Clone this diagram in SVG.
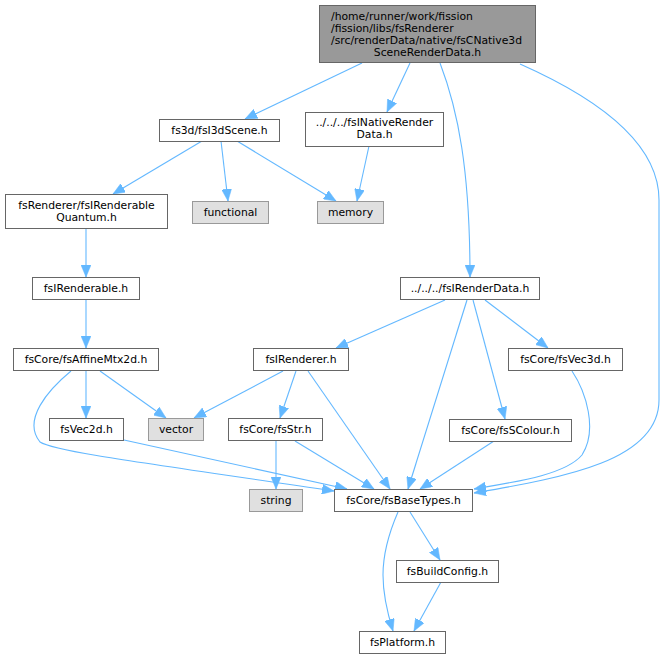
<svg xmlns="http://www.w3.org/2000/svg" width="665" height="659" viewBox="0 0 665 659">
<style>
text{font-family:"DejaVu Sans","Liberation Sans",sans-serif;font-size:10.8px;fill:#000;text-anchor:middle}
.n rect{fill:#fff;stroke:#666;stroke-width:1}
.s rect{fill:#e0e0e0;stroke:#999;stroke-width:1}
.r rect{fill:#999;stroke:#666;stroke-width:1}
#edges path{fill:none;stroke:#63b8ff;stroke-width:1.1;marker-end:url(#a)}
</style>
<defs>
<marker id="a" viewBox="0 0 12 10" refX="12" refY="5" markerWidth="12" markerHeight="10" markerUnits="userSpaceOnUse" orient="auto">
<path d="M0,0 L12,5 L0,10 Z" fill="#63b8ff" stroke="#63b8ff" stroke-width="0.5"/>
</marker>
</defs>
<rect width="665" height="659" fill="#fff"/>
<g id="edges">
<path d="M362,63 L245,119"/>
<path d="M410,63 L387,112"/>
<path d="M440,63 C458,110 470,170 470,277"/>
<path d="M520,64 C590,95 659,140 659,200 L659,400 C659,462 560,478 474,493"/>
<path d="M202,141 L113,194"/>
<path d="M221,141 L228,201"/>
<path d="M237,141 L336,201"/>
<path d="M369,146 L357,201"/>
<path d="M86,229 L86,277"/>
<path d="M86,300 L86,348"/>
<path d="M86,371 L86,418"/>
<path d="M100,371 L166,418"/>
<path d="M71,371 C48,390 22,420 40,442 C55,452 160,465 334,491"/>
<path d="M124,440 L347,489"/>
<path d="M445,300 L336,348"/>
<path d="M467,300 L408,489"/>
<path d="M473,300 L505,419"/>
<path d="M485,300 L548,348"/>
<path d="M283,371 L194,418"/>
<path d="M296,371 L280,418"/>
<path d="M308,371 L390,489"/>
<path d="M276,441 L276,489"/>
<path d="M295,441 L374,489"/>
<path d="M494,441 L420,489"/>
<path d="M572,371 C586,392 598,430 582,455 C565,475 515,482 474,489"/>
<path d="M410,512 L440,560"/>
<path d="M398,512 C388,535 383,555 383,575 C383,597 388,615 393,631"/>
<path d="M441,582 L414,631"/>
</g>
<g id="root" class="r"><rect x="319.5" y="5.5" width="216" height="57"/>
<text x="331" y="19.5" style="text-anchor:start">/home/runner/work/fission</text>
<text x="331" y="31.5" style="text-anchor:start">/fission/libs/fsRenderer</text>
<text x="331" y="43.5" style="text-anchor:start">/src/renderData/native/fsCNative3d</text>
<text x="427.5" y="55.5">SceneRenderData.h</text></g>
<g id="fsI3dScene" class="n"><rect x="159.5" y="119.5" width="120" height="22"/><text x="219.5" y="134">fs3d/fsI3dScene.h</text></g>
<g id="fsINativeRenderData" class="n"><rect x="305.5" y="112.5" width="138" height="34"/><text x="374.5" y="126">../../../fsINativeRender</text><text x="374.5" y="138">Data.h</text></g>
<g id="fsIRenderableQuantum" class="n"><rect x="5.5" y="194.5" width="162" height="34"/><text x="86.5" y="209">fsRenderer/fsIRenderable</text><text x="86.5" y="221">Quantum.h</text></g>
<g id="functional" class="s"><rect x="192.5" y="201.5" width="76" height="22"/><text x="230.5" y="216">functional</text></g>
<g id="memory" class="s"><rect x="317.5" y="201.5" width="66" height="22"/><text x="350.5" y="216">memory</text></g>
<g id="fsIRenderable" class="n"><rect x="32.5" y="277.5" width="107" height="22"/><text x="86" y="292">fsIRenderable.h</text></g>
<g id="fsIRenderData" class="n"><rect x="400.5" y="277.5" width="139" height="22"/><text x="470" y="292">../../../fsIRenderData.h</text></g>
<g id="fsAffineMtx2d" class="n"><rect x="13.5" y="348.5" width="145" height="22"/><text x="86" y="363">fsCore/fsAffineMtx2d.h</text></g>
<g id="fsIRenderer" class="n"><rect x="253.5" y="348.5" width="95" height="22"/><text x="301" y="363">fsIRenderer.h</text></g>
<g id="fsVec3d" class="n"><rect x="508.5" y="348.5" width="114" height="22"/><text x="565.5" y="363">fsCore/fsVec3d.h</text></g>
<g id="fsVec2d" class="n"><rect x="49.5" y="418.5" width="74" height="22"/><text x="86.5" y="433">fsVec2d.h</text></g>
<g id="vector" class="s"><rect x="148.5" y="418.5" width="55" height="22"/><text x="176" y="433">vector</text></g>
<g id="fsStr" class="n"><rect x="228.5" y="418.5" width="94" height="22"/><text x="275.5" y="433">fsCore/fsStr.h</text></g>
<g id="fsSColour" class="n"><rect x="449.5" y="419.5" width="122" height="22"/><text x="510.5" y="434">fsCore/fsSColour.h</text></g>
<g id="string" class="s"><rect x="249.5" y="489.5" width="53" height="22"/><text x="276" y="504">string</text></g>
<g id="fsBaseTypes" class="n"><rect x="334.5" y="489.5" width="138" height="22"/><text x="403.5" y="504">fsCore/fsBaseTypes.h</text></g>
<g id="fsBuildConfig" class="n"><rect x="396.5" y="560.5" width="102" height="22"/><text x="447.5" y="575">fsBuildConfig.h</text></g>
<g id="fsPlatform" class="n"><rect x="359.5" y="631.5" width="86" height="22"/><text x="402.5" y="646">fsPlatform.h</text></g>
</svg>
